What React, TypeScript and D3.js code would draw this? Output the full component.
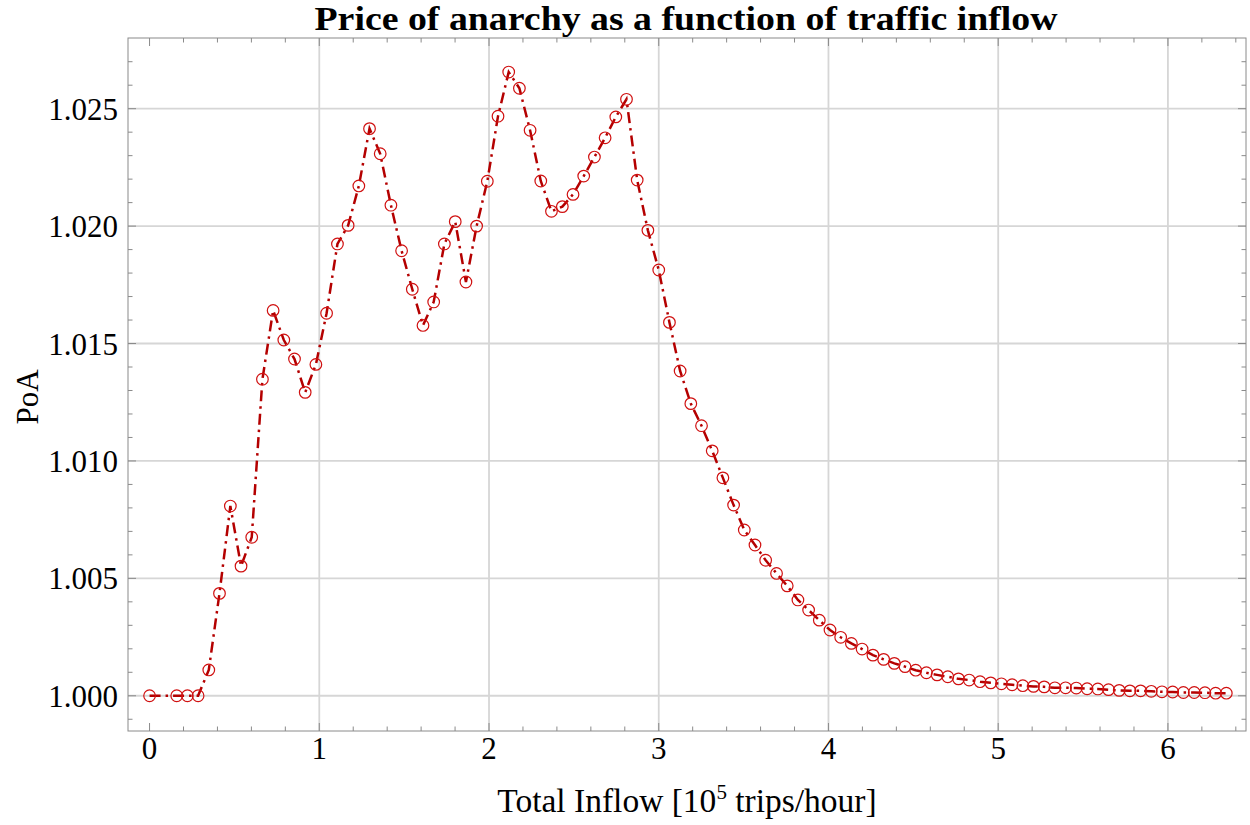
import * as d3 from "d3";
import { useEffect, useRef } from "react";

// total inflow [10^5 trips/hour]
const inflow = [
    0, 0.16, 0.223, 0.286, 0.349, 0.412, 0.476, 0.539, 0.602, 0.665, 0.728,
    0.791, 0.854, 0.917, 0.98, 1.043, 1.107, 1.17, 1.233, 1.296, 1.359, 1.422,
    1.485, 1.548, 1.611, 1.674, 1.737, 1.801, 1.864, 1.927, 1.99, 2.053, 2.116,
    2.179, 2.242, 2.305, 2.368, 2.432, 2.495, 2.558, 2.621, 2.684, 2.747, 2.81,
    2.873, 2.936, 3.0, 3.063, 3.126, 3.189, 3.252, 3.315, 3.378, 3.441, 3.504,
    3.567, 3.63, 3.694, 3.757, 3.82, 3.883, 3.946, 4.009, 4.072, 4.135, 4.198,
    4.262, 4.325, 4.388, 4.451, 4.514, 4.577, 4.64, 4.703, 4.766, 4.829, 4.893,
    4.956, 5.019, 5.082, 5.145, 5.208, 5.271, 5.334, 5.397, 5.46, 5.524, 5.587,
    5.65, 5.713, 5.776, 5.839, 5.902, 5.965, 6.028, 6.091, 6.155, 6.218, 6.281,
    6.344,
];

// price of anarchy at each inflow
const poa = [
    1.0, 1.0, 1.0, 1.0, 1.0011, 1.00436, 1.00808, 1.00552, 1.00675, 1.01348,
    1.01641, 1.01515, 1.01434, 1.01292, 1.01411, 1.01629, 1.01924, 1.02003,
    1.02171, 1.02415, 1.02308, 1.02089, 1.01895, 1.01731, 1.01577, 1.01677,
    1.01924, 1.02019, 1.01762, 1.02, 1.02191, 1.02468, 1.02656, 1.02587,
    1.02408, 1.02192, 1.02063, 1.02083, 1.02135, 1.02213, 1.02294, 1.02376,
    1.02465, 1.0254, 1.02196, 1.01982, 1.01813, 1.0159, 1.01383, 1.01244,
    1.0115, 1.01043, 1.00928, 1.00812, 1.00706, 1.00642, 1.00577, 1.00521,
    1.00468, 1.00408, 1.00365, 1.00322, 1.0028, 1.00249, 1.00223, 1.00199,
    1.00173, 1.00155, 1.00138, 1.00124, 1.00109, 1.00098, 1.00089, 1.00081,
    1.00072, 1.00067, 1.0006, 1.00055, 1.00051, 1.00047, 1.00043, 1.0004,
    1.00038, 1.00034, 1.00034, 1.00033, 1.0003, 1.00029, 1.00026, 1.00023,
    1.00021, 1.00021, 1.00019, 1.00017, 1.00016, 1.00014, 1.00014, 1.00013,
    1.00011, 1.00011,
];

const xTicks = [0, 1, 2, 3, 4, 5, 6];
const yTicks = [1.0, 1.005, 1.01, 1.015, 1.02, 1.025];
const xMinor = d3.range(0, 6.41, 0.2);
const yMinor = d3.range(0.999, 1.0275, 0.001);

const title = "Price of anarchy as a function of traffic inflow";
const font = "'Liberation Serif', 'Times New Roman', serif";

const App = () => {
    const svgRef = useRef<SVGSVGElement | null>(null);

    const dimensions = { width: 1250, height: 825 };
    const frame = { left: 128, right: 1246, top: 38, bottom: 731 };

    useEffect(() => {
        document.body.style.margin = "0";
        const svg = d3.select(svgRef.current);
        svg.selectAll("*").remove();

        const points = inflow.map((x, i) => ({ x, y: poa[i] }));

        const xScale = d3
            .scaleLinear()
            .domain([-0.127, 6.46])
            .range([frame.left, frame.right]);
        const yScale = d3
            .scaleLinear()
            .domain([0.9985, 1.02801])
            .range([frame.bottom, frame.top]);

        // grid
        const grid = svg.append("g").attr("stroke", "#d6d6d6").attr("stroke-width", 1.8);
        grid.selectAll("line.v")
            .data(xTicks.filter((t) => t > 0))
            .join("line")
            .attr("x1", (d) => xScale(d))
            .attr("x2", (d) => xScale(d))
            .attr("y1", frame.top)
            .attr("y2", frame.bottom);
        grid.selectAll("line.h")
            .data(yTicks)
            .join("line")
            .attr("x1", frame.left)
            .attr("x2", frame.right)
            .attr("y1", (d) => yScale(d))
            .attr("y2", (d) => yScale(d));

        // frame + ticks (inward, all four sides)
        const ax = svg.append("g").attr("stroke", "#8a8a8a").attr("stroke-width", 1);
        ax.append("rect")
            .attr("x", frame.left)
            .attr("y", frame.top)
            .attr("width", frame.right - frame.left)
            .attr("height", frame.bottom - frame.top)
            .attr("fill", "none");

        const isMajorX = (d: number) => Math.abs(d - Math.round(d)) < 1e-6;
        const isMajorY = (d: number) => Math.abs(d * 200 - Math.round(d * 200)) < 1e-6;

        [frame.bottom, frame.top].forEach((y0, k) => {
            const dir = k === 0 ? -1 : 1;
            ax.append("g")
                .selectAll("line")
                .data(xMinor)
                .join("line")
                .attr("x1", (d) => xScale(d))
                .attr("x2", (d) => xScale(d))
                .attr("y1", y0)
                .attr("y2", (d) => y0 + dir * (isMajorX(d) ? 8 : 4.5));
        });
        [frame.left, frame.right].forEach((x0, k) => {
            const dir = k === 0 ? 1 : -1;
            ax.append("g")
                .selectAll("line")
                .data(yMinor)
                .join("line")
                .attr("x1", x0)
                .attr("x2", (d) => x0 + dir * (isMajorY(d) ? 8 : 4.5))
                .attr("y1", (d) => yScale(d))
                .attr("y2", (d) => yScale(d));
        });

        // tick labels
        svg.append("g")
            .selectAll("text")
            .data(xTicks)
            .join("text")
            .attr("x", (d) => xScale(d))
            .attr("y", frame.bottom + 28)
            .attr("text-anchor", "middle")
            .attr("font-family", font)
            .attr("font-size", 31)
            .text((d) => d3.format("d")(d));

        svg.append("g")
            .selectAll("text")
            .data(yTicks)
            .join("text")
            .attr("x", frame.left - 10)
            .attr("y", (d) => yScale(d) + 11)
            .attr("text-anchor", "end")
            .attr("font-family", font)
            .attr("font-size", 31)
            .text((d) => d3.format(".3f")(d));

        // the series
        const line = d3
            .line<{ x: number; y: number }>()
            .x((d) => xScale(d.x))
            .y((d) => yScale(d.y));

        svg.append("path")
            .datum(points)
            .attr("d", line)
            .attr("fill", "none")
            .attr("stroke", "#b40000")
            .attr("stroke-width", 2.5)
            .attr("stroke-dasharray", "11,5,2.5,5");

        svg.append("g")
            .selectAll("circle")
            .data(points)
            .join("circle")
            .attr("cx", (d) => xScale(d.x))
            .attr("cy", (d) => yScale(d.y))
            .attr("r", 5.8)
            .attr("fill", "none")
            .attr("stroke", "#d01010")
            .attr("stroke-width", 1.2);

        // titles
        svg.append("text")
            .attr("x", 686)
            .attr("y", 30)
            .attr("text-anchor", "middle")
            .attr("font-family", font)
            .attr("font-weight", "bold")
            .attr("font-size", 33.5)
            .attr("textLength", 743)
            .attr("lengthAdjust", "spacingAndGlyphs")
            .text(title);

        const xl = svg.append("text")
            .attr("x", 687)
            .attr("y", 812)
            .attr("text-anchor", "middle")
            .attr("font-family", font)
            .attr("font-size", 33.5);
        xl.append("tspan").text("Total Inflow [10");
        xl.append("tspan").attr("font-size", 21).attr("dy", -13).text("5");
        xl.append("tspan").attr("dy", 13).text(" trips/hour]");

        svg.append("text")
            .attr("transform", `translate(38, 397) rotate(-90)`)
            .attr("text-anchor", "middle")
            .attr("font-family", font)
            .attr("font-size", 31)
            .text("PoA");
    }, []);

    return (
        <svg
            ref={svgRef}
            width={dimensions.width}
            height={dimensions.height}
            style={{ position: "absolute", left: 0, top: 0, background: "#fff" }}
        />
    );
};

export default App;
